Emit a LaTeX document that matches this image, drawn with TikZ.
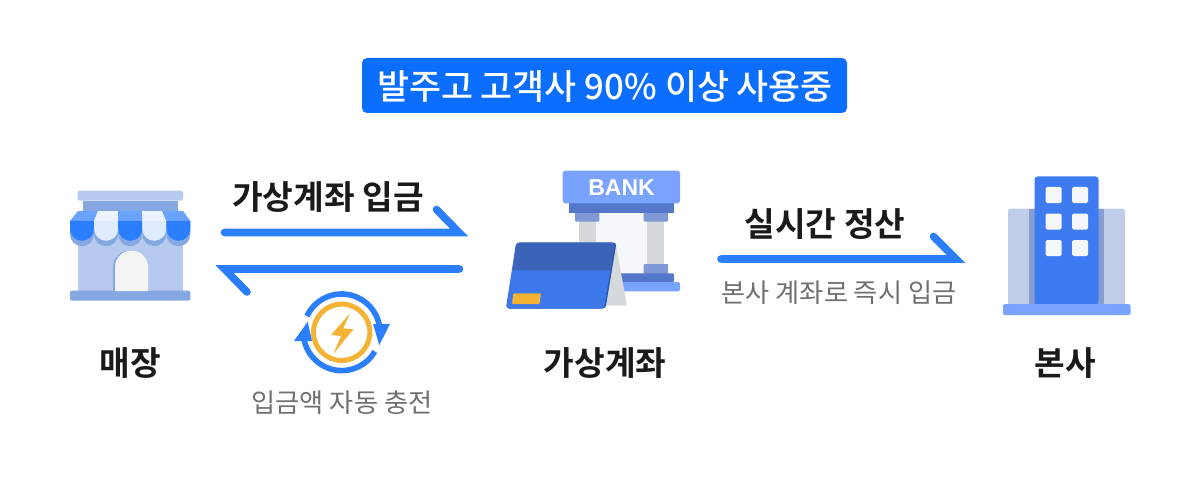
\documentclass[tikz,border=0pt]{standalone}
\usepackage{fontspec}
\setmainfont{Noto Sans CJK KR}[BoldFont={* Bold}]
\newfontfamily\medfont{Noto Sans CJK KR Medium}
\newfontfamily\lat{Liberation Sans}
\definecolor{bluemain}{HTML}{2B7FFF}
\definecolor{badge}{HTML}{0B6EFF}
\definecolor{ink}{HTML}{1A1A1A}
\definecolor{graytxt}{HTML}{6E7073}
\definecolor{shoplight}{HTML}{B5CAEE}
\definecolor{shopmid}{HTML}{85A8E2}
\definecolor{awnlight}{HTML}{DFEBFF}
\definecolor{awntop}{HTML}{69A3FF}
\definecolor{awntopl}{HTML}{EEF4FF}
\definecolor{bankblue}{HTML}{7AA2FF}
\definecolor{bankdark}{HTML}{5577C9}
\definecolor{bankcap}{HTML}{7F99D6}
\definecolor{col}{HTML}{D5D9DB}
\definecolor{wall}{HTML}{F5F7FA}
\definecolor{cardtop}{HTML}{3B63B8}
\definecolor{cardlow}{HTML}{3D78EA}
\definecolor{cardedge}{HTML}{2A55B0}
\definecolor{gold}{HTML}{F5B335}
\definecolor{doorw}{HTML}{F4F4F4}
\definecolor{hqside}{HTML}{BFCDE9}
\definecolor{hqshade}{HTML}{859DCF}
\definecolor{hqmain}{HTML}{3F7BF0}
\tikzset{
  x=1pt,y=-1pt,
  harp/.style={draw=bluemain,line width=7.6pt,line cap=round,line join=miter,miter limit=10},
  heading/.style={font=\bfseries\fontsize{33.3}{34}\selectfont,text=ink,inner sep=0pt},
  note/.style={font=\fontsize{26.2}{26}\selectfont,text=graytxt,inner sep=0pt},
  windowbox/.style={fill=wall,rounded corners=1.5pt},
}
\begin{document}
\begin{tikzpicture}
\useasboundingbox[fill=white] (0,0) rectangle (1201,481);
% badge
\fill[badge,rounded corners=5pt] (362,58) rectangle (847,113);
\node[font=\medfont\fontsize{34.8}{35}\selectfont,text=white,inner sep=0pt] (title) at (605,86) {발주고 고객사 90\% 이상 사용중};
% shop
\fill[shoplight,rounded corners=1.5pt] (77.7,190.7) rectangle (183,200.7);
\fill[shopmid] (82.7,200.7) rectangle (178,211);
\fill[shoplight] (77.7,215) rectangle (183,291);
\fill[shopmid,rounded corners=1.5pt] (70,290.7) rectangle (190.3,300.7);
\fill[shopmid] (113,291) -- (113,267) arc[start angle=180,end angle=360,radius=16.5] -- (146,291) -- cycle;
\fill[doorw] (115,291) -- (115,267) arc[start angle=180,end angle=360,radius=16.5] -- (148,291) -- cycle;
\foreach \xa in {70,94.1,118.2,142.3,166.4}{
  \fill[shopmid] (\xa,224) -- (\xa,234.2) arc[start angle=180,end angle=0,radius=12] -- (\xa+24,224) -- cycle;
}
\fill[awntop] (78,211) -- (98,211) -- (94.1,221) -- (70,221) -- cycle;
\fill[awntopl] (98,211) -- (118.2,211) -- (118.2,221) -- (94.1,221) -- cycle;
\fill[awntop] (118.2,211) -- (142.3,211) -- (142.3,221) -- (118.2,221) -- cycle;
\fill[awntopl] (142.3,211) -- (162,211) -- (166.4,221) -- (142.3,221) -- cycle;
\fill[awntop] (162,211) -- (183,211) -- (190.4,221) -- (166.4,221) -- cycle;
\foreach \xa/\c in {70/bluemain,94.1/awnlight,118.2/bluemain,142.3/awnlight,166.4/bluemain}{
  \fill[\c] (\xa,220.8) -- (\xa,228.8) arc[start angle=180,end angle=0,radius=12] -- (\xa+24,220.8) -- cycle;
}
% harpoon arrows
\coordinate (a1s) at (224.5,232.5); \coordinate (a1t) at (459,232.5); \coordinate (a1h) at (436.5,209.5);
\coordinate (a2s) at (459.5,269); \coordinate (a2t) at (224.5,269); \coordinate (a2h) at (247,292);
\coordinate (a3s) at (721,259); \coordinate (a3t) at (956,259); \coordinate (a3h) at (933.5,236.5);
\draw[harp] (a1s) -- (a1t) -- (a1h);
\draw[harp] (a2s) -- (a2t) -- (a2h);
\draw[harp] (a3s) -- (a3t) -- (a3h);
% bolt icon
\coordinate (ic) at (341.7,332.3);
\draw[gold,line width=5pt] (ic) circle[radius=28.2];
\fill[gold] (350,313.3) -- (331,335) -- (341,336) -- (333.3,354) -- (353.3,329.3) -- (343.3,328.3) -- cycle;
\draw[bluemain,line width=5.6pt] (ic) ++(-155:38.3) arc[start angle=-155,end angle=-5,radius=38.3];
\draw[bluemain,line width=5.6pt] (ic) ++(-188:38.3) arc[start angle=-188,end angle=-330,radius=38.3];
\fill[bluemain] (390,324) -- (373,324) -- (379.3,345) -- cycle;
\fill[bluemain] (294,341) -- (307.7,321.7) -- (312,341) -- cycle;
% bank
\fill[wall] (596,212) rectangle (647,274);
\fill[col] (578.7,221) rectangle (596,282);
\fill[col] (647,221) rectangle (664,282);
\fill[bankcap,rounded corners=1pt] (575,212) rectangle (599.3,221.7);
\fill[bankcap,rounded corners=1pt] (643.7,212) rectangle (668,221.7);
\fill[bankcap,rounded corners=1pt] (643.7,264) rectangle (668,274);
\fill[bankdark] (569.3,203) rectangle (674,212.7);
\fill[bankblue,rounded corners=2.5pt] (562.7,170.7) rectangle (680,203.3);
\node[font=\lat\bfseries\fontsize{23}{23}\selectfont,text=white,inner sep=0pt] (bank) at (621.5,187.5) {BANK};
\fill[bankdark,rounded corners=1pt] (600,273.3) rectangle (674,282);
\fill[bankblue,rounded corners=2pt] (600,282) rectangle (680,291.3);
\fill[col,rounded corners=1.5pt] (615.5,242.5) -- (627,305.7) -- (605,305.7) -- cycle;
\fill[cardedge,rounded corners=3pt] (517,242.7) -- (616.5,242.7) -- (605.5,308.5) -- (506,308.5) -- cycle;
\fill[cardlow,rounded corners=3pt] (516,242.7) -- (615,242.7) -- (604,308.5) -- (506,308.5) -- cycle;
\fill[cardtop,rounded corners=3pt] (516.5,242.7) -- (615,242.7) -- (610.5,270) -- (513,270) -- cycle;
\fill[cardtop] (513.2,266) -- (611.2,266) -- (610.5,270) -- (512.7,270) -- cycle;
\fill[gold,rounded corners=1pt] (513.3,293.3) -- (541,293.3) -- (539.5,304) -- (512,304) -- cycle;
% head office
\fill[hqside,rounded corners=3pt] (1008,208.5) rectangle (1125,306);
\fill[hqshade] (1029,208.5) rectangle (1104,304);
\fill[hqmain,rounded corners=3pt] (1034.5,176.5) rectangle (1098.5,305);
\foreach \wx in {1045.5,1072}{\foreach \wy in {187,213.5,240}{
  \fill[windowbox] (\wx,\wy) rectangle +(16,16);
}}
\fill[bankblue,rounded corners=2pt] (1003,304) rectangle (1130.5,315);
% text
\node[heading] (t1) at (328,197) {가상계좌 입금};
\node[heading] (t2) at (825,224) {실시간 정산};
\node[note] (t3) at (839,293) {본사 계좌로 즉시 입금};
\node[heading] (l1) at (130,363) {매장};
\node[heading] (l2) at (605,363) {가상계좌};
\node[heading] (l3) at (1065,363) {본사};
\node[note] (l4) at (342,403) {입금액 자동 충전};
\end{tikzpicture}
\end{document}
